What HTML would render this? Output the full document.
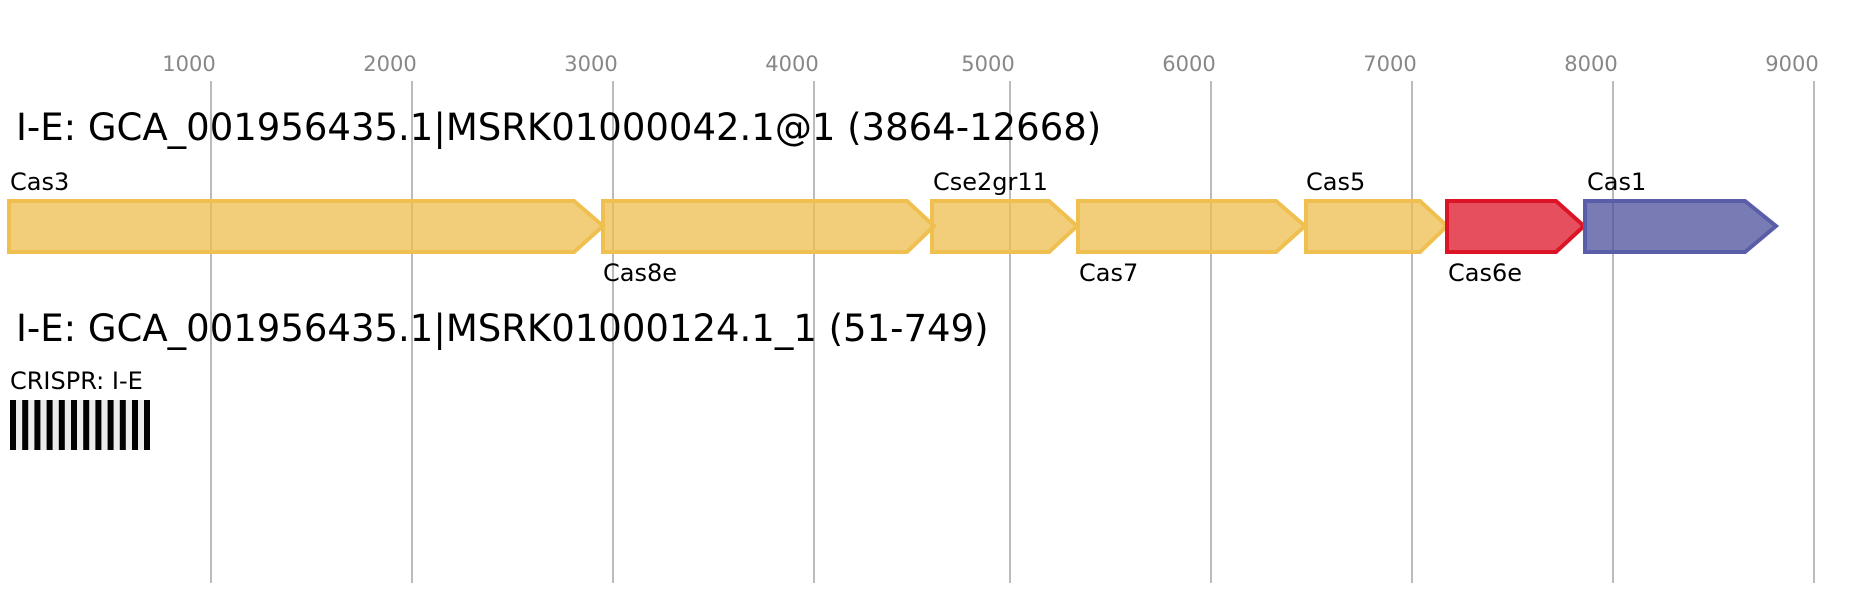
<!DOCTYPE html>
<html><head><meta charset="utf-8"><style>body{margin:0;background:#fff}</style></head><body>
<svg width="1861" height="600" xmlns="http://www.w3.org/2000/svg" font-family="DejaVu Sans, Liberation Sans, sans-serif">
<g stroke="#bbb" stroke-width="2">
<line x1="211" y1="81" x2="211" y2="583"/><line x1="412" y1="81" x2="412" y2="583"/><line x1="613" y1="81" x2="613" y2="583"/><line x1="814" y1="81" x2="814" y2="583"/><line x1="1010" y1="81" x2="1010" y2="583"/><line x1="1211" y1="81" x2="1211" y2="583"/><line x1="1412" y1="81" x2="1412" y2="583"/><line x1="1613" y1="81" x2="1613" y2="583"/><line x1="1814" y1="81" x2="1814" y2="583"/>
</g>
<g fill="#888" font-size="21" text-anchor="middle">
<text x="189" y="71">1000</text><text x="390" y="71">2000</text><text x="591" y="71">3000</text><text x="792" y="71">4000</text><text x="988" y="71">5000</text><text x="1189" y="71">6000</text><text x="1390" y="71">7000</text><text x="1591" y="71">8000</text><text x="1792" y="71">9000</text>
</g>
<text x="16" y="140" font-size="37" fill="#000">I-E: GCA_001956435.1|MSRK01000042.1@1 (3864-12668)</text>
<text x="16" y="341" font-size="37" fill="#000">I-E: GCA_001956435.1|MSRK01000124.1_1 (51-749)</text>
<g stroke-width="4" fill-opacity="0.75">
<polygon points="9,201 574,201 603,226 574,252 9,252" fill="#eebe4f" stroke="#efbf4f"/>
<polygon points="603,201 907,201 934,226 907,252 603,252" fill="#eebe4f" stroke="#efbf4f"/>
<polygon points="932,201 1049,201 1077,226 1049,252 932,252" fill="#eebe4f" stroke="#efbf4f"/>
<polygon points="1078,201 1276,201 1305,226 1276,252 1078,252" fill="#eebe4f" stroke="#efbf4f"/>
<polygon points="1306,201 1420,201 1447,226 1420,252 1306,252" fill="#eebe4f" stroke="#efbf4f"/>
<polygon points="1447,201 1556,201 1584,226 1556,252 1447,252" fill="#dc1428" stroke="#dc1428"/>
<polygon points="1585,201 1745,201 1776,226 1745,252 1585,252" fill="#4c4f9c" stroke="#5a5ea8"/>
</g>
<g font-size="24" fill="#000">
<text x="10" y="190">Cas3</text><text x="603" y="281">Cas8e</text><text x="933" y="190">Cse2gr11</text><text x="1079" y="281">Cas7</text><text x="1306" y="190">Cas5</text><text x="1448" y="281">Cas6e</text><text x="1587" y="190">Cas1</text>
<text x="10" y="389">CRISPR: I-E</text>
</g>
<rect x="10" y="400" width="140" height="50" fill="#ececec"/>
<g fill="#000">
<rect x="10" y="400" width="6" height="50"/><rect x="22.2" y="400" width="6" height="50"/><rect x="34.4" y="400" width="6" height="50"/><rect x="46.6" y="400" width="6" height="50"/><rect x="58.8" y="400" width="6" height="50"/><rect x="71" y="400" width="6" height="50"/><rect x="83.2" y="400" width="6" height="50"/><rect x="95.4" y="400" width="6" height="50"/><rect x="107.6" y="400" width="6" height="50"/><rect x="119.8" y="400" width="6" height="50"/><rect x="132" y="400" width="6" height="50"/><rect x="144" y="400" width="6" height="50"/>
</g>
</svg>
</body></html>
